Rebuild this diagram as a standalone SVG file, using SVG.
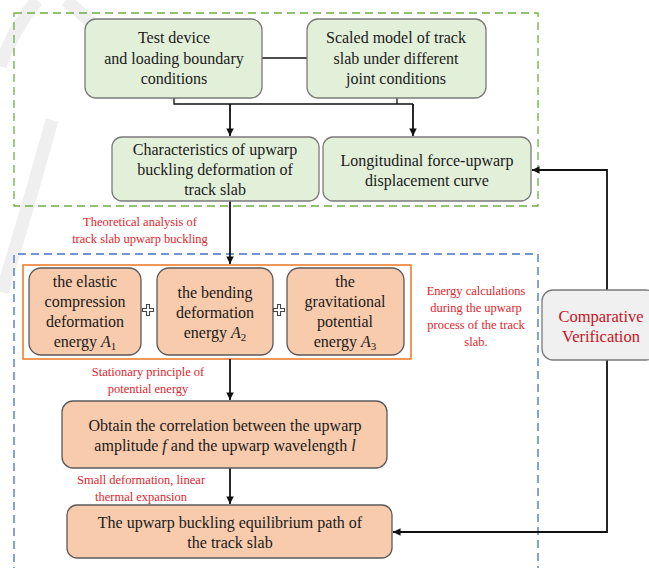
<svg xmlns="http://www.w3.org/2000/svg" width="649" height="568" viewBox="0 0 649 568">
<defs>
<marker id="ah" viewBox="0 0 10 10" refX="10" refY="5" markerWidth="4.2" markerHeight="4.2" orient="auto" markerUnits="strokeWidth">
<path d="M0,0 L10,5 L0,10 z" fill="#111"/>
</marker>
</defs>
<rect width="649" height="568" fill="#fff"/>
<g id="watermark" fill="none" stroke="#dcdcdc" stroke-opacity="0.45" stroke-width="13">
<path d="M0,66 Q14,28 37,0"/>
<path d="M66,0 L140,66 L178,98"/>
<path d="M2,292 Q30,200 52,120"/>
</g>
<g id="frames" fill="none">
<rect x="14" y="13" width="524" height="193" stroke="#70ad47" stroke-width="1.3" stroke-dasharray="8,5"/>
<path d="M14,575 V254 H538 V575" stroke="#4472c4" stroke-width="1.3" stroke-dasharray="8,5"/>
<rect x="23" y="265" width="388" height="94" stroke="#ed7d31" stroke-width="1.6"/>
</g>
<g id="connectors" fill="none" stroke="#111">
<path stroke-width="1.3" d="M262,58 H307"/>
<path stroke-width="1.3" d="M174,98 V104 H413"/>
<path stroke-width="1.3" d="M397,98 V104"/>
<path stroke-width="1.8" d="M230,104 V136" marker-end="url(#ah)"/>
<path stroke-width="1.8" d="M413,104 V136" marker-end="url(#ah)"/>
<path stroke-width="1.8" d="M230,201 V264" marker-end="url(#ah)"/>
<path stroke-width="1.8" d="M230,359 V400" marker-end="url(#ah)"/>
<path stroke-width="1.8" d="M230,468 V504" marker-end="url(#ah)"/>
<path stroke-width="1.8" d="M607,290 V170 H532" marker-end="url(#ah)"/>
<path stroke-width="1.8" d="M607,360 V532 H393" marker-end="url(#ah)"/>
</g>
<g id="n1"><rect fill="#e2efd9" stroke="#7a7a7a" stroke-width="1.3" x="85" y="19" width="177" height="79" rx="11"/>
<text font-family="Liberation Serif" font-size="16" fill="#1a1a1a" text-anchor="middle" x="174" y="43">Test device</text>
<text font-family="Liberation Serif" font-size="16" fill="#1a1a1a" text-anchor="middle" x="174" y="64">and loading boundary</text>
<text font-family="Liberation Serif" font-size="16" fill="#1a1a1a" text-anchor="middle" x="174" y="84">conditions</text></g>
<g id="n2"><rect fill="#e2efd9" stroke="#7a7a7a" stroke-width="1.3" x="307" y="19" width="179" height="79" rx="11"/>
<text font-family="Liberation Serif" font-size="16" fill="#1a1a1a" text-anchor="middle" x="396" y="43">Scaled model of track</text>
<text font-family="Liberation Serif" font-size="16" fill="#1a1a1a" text-anchor="middle" x="396" y="64">slab under different</text>
<text font-family="Liberation Serif" font-size="16" fill="#1a1a1a" text-anchor="middle" x="396" y="84">joint conditions</text></g>
<g id="n3"><rect fill="#e2efd9" stroke="#7a7a7a" stroke-width="1.3" x="112" y="137" width="207" height="64" rx="10"/>
<text font-family="Liberation Serif" font-size="16" fill="#1a1a1a" text-anchor="middle" x="215" y="155">Characteristics of upwarp</text>
<text font-family="Liberation Serif" font-size="16" fill="#1a1a1a" text-anchor="middle" x="215" y="175">buckling deformation of</text>
<text font-family="Liberation Serif" font-size="16" fill="#1a1a1a" text-anchor="middle" x="215" y="195">track slab</text></g>
<g id="n4"><rect fill="#e2efd9" stroke="#7a7a7a" stroke-width="1.3" x="323" y="137" width="208" height="64" rx="10"/>
<text font-family="Liberation Serif" font-size="16" fill="#1a1a1a" text-anchor="middle" x="427" y="166">Longitudinal force-upwarp</text>
<text font-family="Liberation Serif" font-size="16" fill="#1a1a1a" text-anchor="middle" x="427" y="186">displacement curve</text></g>
<g id="lbl1">
<text font-family="Liberation Serif" font-size="12.5" fill="#e0262e" text-anchor="middle" x="140" y="226">Theoretical analysis of</text>
<text font-family="Liberation Serif" font-size="12.5" fill="#e0262e" text-anchor="middle" x="140" y="243">track slab upwarp buckling</text></g>
<g id="a1"><rect fill="#f8cbad" stroke="#5a5a5a" stroke-width="1.3" x="29" y="268" width="112" height="87" rx="12"/>
<text font-family="Liberation Serif" font-size="16" fill="#1a1a1a" text-anchor="middle" x="85" y="287">the elastic</text>
<text font-family="Liberation Serif" font-size="16" fill="#1a1a1a" text-anchor="middle" x="85" y="307">compression</text>
<text font-family="Liberation Serif" font-size="16" fill="#1a1a1a" text-anchor="middle" x="85" y="327">deformation</text>
<text font-family="Liberation Serif" font-size="16" fill="#1a1a1a" text-anchor="middle" x="85" y="347">energy <tspan font-style="italic">A</tspan><tspan font-size="11" dy="3">1</tspan></text></g>
<g id="a2"><rect fill="#f8cbad" stroke="#5a5a5a" stroke-width="1.3" x="157" y="268" width="116" height="87" rx="12"/>
<text font-family="Liberation Serif" font-size="16" fill="#1a1a1a" text-anchor="middle" x="215" y="298">the bending</text>
<text font-family="Liberation Serif" font-size="16" fill="#1a1a1a" text-anchor="middle" x="215" y="318">deformation</text>
<text font-family="Liberation Serif" font-size="16" fill="#1a1a1a" text-anchor="middle" x="215" y="338">energy <tspan font-style="italic">A</tspan><tspan font-size="11" dy="3">2</tspan></text></g>
<g id="a3"><rect fill="#f8cbad" stroke="#5a5a5a" stroke-width="1.3" x="287" y="268" width="117" height="87" rx="12"/>
<text font-family="Liberation Serif" font-size="16" fill="#1a1a1a" text-anchor="middle" x="345" y="287">the</text>
<text font-family="Liberation Serif" font-size="16" fill="#1a1a1a" text-anchor="middle" x="345" y="307">gravitational</text>
<text font-family="Liberation Serif" font-size="16" fill="#1a1a1a" text-anchor="middle" x="345" y="327">potential</text>
<text font-family="Liberation Serif" font-size="16" fill="#1a1a1a" text-anchor="middle" x="345" y="347">energy <tspan font-style="italic">A</tspan><tspan font-size="11" dy="3">3</tspan></text></g>
<g id="plus" fill="#fff" stroke="#444" stroke-width="1.1">
<path d="M146.5,304.5 h3 v4 h4 v3 h-4 v4 h-3 v-4 h-4 v-3 h4 z"/>
<path d="M277.5,304.5 h3 v4 h4 v3 h-4 v4 h-3 v-4 h-4 v-3 h4 z"/>
</g>
<g id="lbl2">
<text font-family="Liberation Serif" font-size="12.5" fill="#e0262e" text-anchor="middle" x="476" y="295">Energy calculations</text>
<text font-family="Liberation Serif" font-size="12.5" fill="#e0262e" text-anchor="middle" x="476" y="312">during the upwarp</text>
<text font-family="Liberation Serif" font-size="12.5" fill="#e0262e" text-anchor="middle" x="476" y="329">process of the track</text>
<text font-family="Liberation Serif" font-size="12.5" fill="#e0262e" text-anchor="middle" x="476" y="346">slab.</text></g>
<g id="cv"><rect x="542" y="290" width="115" height="70" rx="11" fill="#f0f0f0" stroke="#7a7a7a" stroke-width="1.3"/>
<text font-family="Liberation Serif" font-size="16.5" fill="#c8141e" text-anchor="middle" x="601" y="322">Comparative</text>
<text font-family="Liberation Serif" font-size="16.5" fill="#c8141e" text-anchor="middle" x="601" y="342">Verification</text></g>
<g id="lbl3">
<text font-family="Liberation Serif" font-size="12.5" fill="#e0262e" text-anchor="middle" x="148" y="376">Stationary principle of</text>
<text font-family="Liberation Serif" font-size="12.5" fill="#e0262e" text-anchor="middle" x="148" y="393">potential energy</text></g>
<g id="n5"><rect fill="#f8cbad" stroke="#5a5a5a" stroke-width="1.3" x="62" y="401" width="325" height="67" rx="11"/>
<text font-family="Liberation Serif" font-size="16" fill="#1a1a1a" text-anchor="middle" x="225" y="431">Obtain the correlation between the upwarp</text>
<text font-family="Liberation Serif" font-size="16" fill="#1a1a1a" text-anchor="middle" x="225" y="451">amplitude <tspan font-style="italic">f</tspan> and the upwarp wavelength <tspan font-style="italic">l</tspan></text></g>
<g id="lbl4">
<text font-family="Liberation Serif" font-size="12.5" fill="#e0262e" text-anchor="middle" x="141" y="484">Small deformation, linear</text>
<text font-family="Liberation Serif" font-size="12.5" fill="#e0262e" text-anchor="middle" x="141" y="501">thermal expansion</text></g>
<g id="n6"><rect fill="#f8cbad" stroke="#5a5a5a" stroke-width="1.3" x="67" y="505" width="325" height="53" rx="10"/>
<text font-family="Liberation Serif" font-size="16" fill="#1a1a1a" text-anchor="middle" x="230" y="528">The upwarp buckling equilibrium path of</text>
<text font-family="Liberation Serif" font-size="16" fill="#1a1a1a" text-anchor="middle" x="230" y="548">the track slab</text></g>
</svg>
